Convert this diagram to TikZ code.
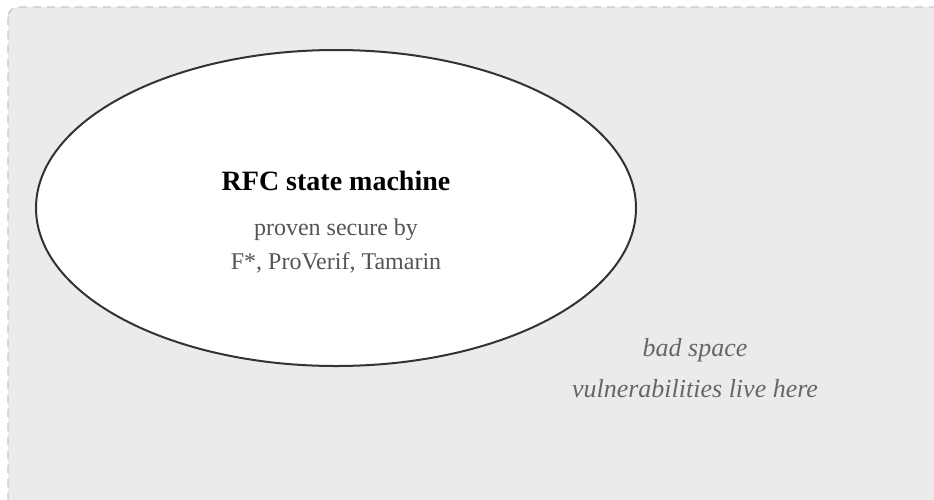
\documentclass[tikz,border=0pt]{standalone}
\usepackage{fontspec}
\usetikzlibrary{shapes.geometric}
\setmainfont{Liberation Serif}
\definecolor{bgfill}{HTML}{EBEBEB}
\definecolor{bgdash}{HTML}{C8C8C8}
\definecolor{ellline}{HTML}{333333}
\definecolor{subtxt}{HTML}{555555}
\definecolor{badtxt}{HTML}{666666}
\begin{document}
\begin{tikzpicture}[x=1pt,y=-1pt,
  region/.style={fill=bgfill,draw=bgdash,line width=1.3pt,dash pattern=on 8pt off 6pt,rounded corners=10pt},
  machine/.style={ellipse,draw=ellline,fill=white,line width=2pt,minimum width=600pt,minimum height=316pt,inner sep=0pt},
  title/.style={font=\fontsize{28}{32}\selectfont\bfseries,text=black},
  sub/.style={font=\fontsize{24}{28}\selectfont,text=subtxt},
  bad/.style={font=\fontsize{26}{30}\selectfont\itshape,text=badtxt}]
\useasboundingbox (0,0) rectangle (934,499);
\clip (0,0) rectangle (934,499);
\path[region] (8,7) rectangle (960,525);
\node[machine] (ell) at (336,208) {};
\node[title] (t) at (336,181) {RFC state machine};
\node[sub] (s1) at (336,230) {proven secure by};
\node[sub] (s2) at (336,263) {F*, ProVerif, Tamarin};
\node[bad] (b1) at (695,350) {bad space};
\node[bad] (b2) at (695,389) {vulnerabilities live here};
\end{tikzpicture}
\end{document}
